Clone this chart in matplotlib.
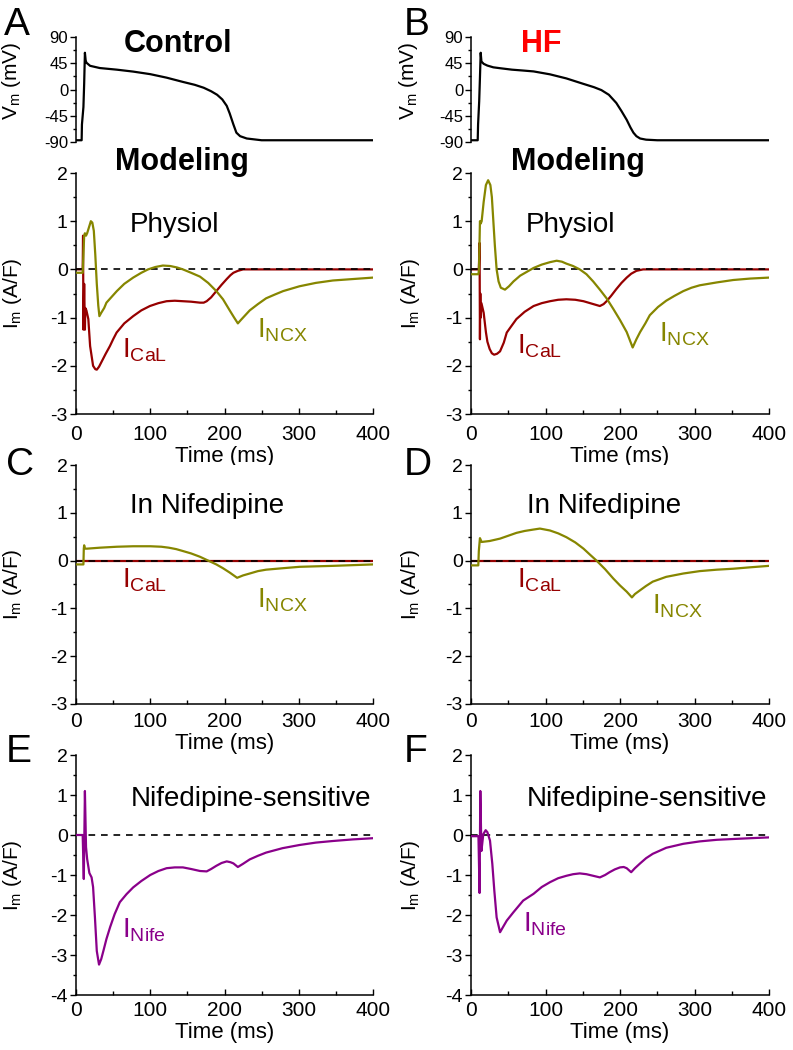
import matplotlib
matplotlib.use("Agg")
import matplotlib.pyplot as plt
from matplotlib.ticker import MultipleLocator

plt.rcParams['font.family'] = ['Liberation Sans', 'DejaVu Sans']
plt.rcParams['mathtext.fontset'] = 'custom'
plt.rcParams['mathtext.rm'] = 'Liberation Sans'
plt.rcParams['mathtext.it'] = 'Liberation Sans'
plt.rcParams['mathtext.default'] = 'regular'
plt.rcParams['axes.unicode_minus'] = False

# ---------------- data ----------------
# Action potentials
ap_ctrl_t = [0, 7.6, 8, 10, 11, 12, 13, 14, 19, 32, 55, 77, 100, 122, 144, 160, 172, 182,
             190, 197, 203, 207, 212, 216, 221, 230, 250, 400]
ap_ctrl_v = [-87, -87, -60, -30, 10, 63, 50, 46, 40.6, 36.8, 34, 30.7, 26.3, 20.3, 13, 8, 3, -3,
             -9, -17, -28, -41, -60, -74, -80, -84, -87, -87]
ap_hf_t = [0, 9, 9.5, 11, 12, 13, 14, 17, 22, 30, 39, 55, 70, 84, 106, 128, 150, 165, 175, 185,
           195, 202, 209, 214, 218, 222, 227, 235, 250, 400]
ap_hf_v = [-87, -87, -60, -20, 20, 63, 48, 44, 41, 38, 36.5, 34, 32.5, 31, 26, 19, 10, 4, -1, -9,
           -23, -37, -52, -65, -74, -80, -84, -86, -87, -87]

# Physiol, control
cal_ctrl_t = [0, 9, 9.5, 10, 11, 12, 12.5, 14, 16.6, 19, 23, 26, 28, 31, 35, 40, 45.7, 50, 54.7,
              65, 77, 88, 99.5, 111, 122, 133, 144, 155, 167, 172, 176, 182, 189, 196, 203, 208,
              212, 218, 225, 400]
cal_ctrl_i = [0, 0, 0.7, -1.25, -0.3, -1.25, -0.8, -0.85, -1.03, -1.59, -2.0, -2.07, -2.08, -2.02,
              -1.9, -1.75, -1.59, -1.45, -1.31, -1.12, -0.97, -0.85, -0.76, -0.7, -0.66, -0.65,
              -0.66, -0.67, -0.69, -0.69, -0.66, -0.58, -0.45, -0.32, -0.2, -0.12, -0.07, -0.03,
              0, 0]
ncx_ctrl_t = [0, 9, 10, 11, 12, 13.5, 15, 17, 20, 22, 24, 26, 28, 30, 31.5, 34, 38, 41, 48, 55,
              65, 77, 88, 97, 107, 117, 127, 136, 144, 155, 167, 178, 189, 198, 207, 213, 218,
              222, 228, 234, 245, 256, 268, 279, 290, 301, 323, 346, 373, 400]
ncx_ctrl_i = [-0.07, -0.07, 0.3, 0.7, 0.75, 0.7, 0.75, 0.85, 1.0, 0.97, 0.8, 0.3, -0.3, -0.75,
              -0.97, -0.9, -0.8, -0.69, -0.57, -0.45, -0.3, -0.17, -0.07, 0.0, 0.05, 0.08, 0.07,
              0.04, 0.0, -0.07, -0.15, -0.28, -0.45, -0.62, -0.85, -1.0, -1.12, -1.05, -0.95,
              -0.85, -0.72, -0.6, -0.52, -0.45, -0.4, -0.35, -0.28, -0.23, -0.2, -0.17]

# Physiol, HF
cal_hf_t = [0, 10.5, 11.5, 12, 12.5, 13, 14, 17, 20, 22, 25, 28, 31, 35, 39, 44, 48, 54, 61, 72,
            84, 95, 106, 117, 128, 140, 151, 162, 173, 178, 182, 188, 195, 202, 209, 215, 222,
            231, 400]
cal_hf_i = [0, 0, 0.55, -1.45, -0.5, -1.0, -0.7, -0.9, -1.3, -1.5, -1.65, -1.74, -1.77, -1.75,
            -1.7, -1.52, -1.31, -1.18, -1.03, -0.88, -0.76, -0.7, -0.66, -0.63, -0.62, -0.63,
            -0.66, -0.71, -0.76, -0.72, -0.66, -0.55, -0.41, -0.28, -0.17, -0.09, -0.03, 0, 0]
ncx_hf_t = [0, 10, 10.7, 11.5, 12, 13, 14.3, 17, 20, 23, 26, 28, 30, 32, 34.4, 37, 40, 45.6, 51,
            57, 66, 75, 84, 95, 106, 115, 122, 128, 137, 146, 155, 164, 173, 182, 191, 200, 209,
            217, 222, 227, 234, 240, 251, 262, 273, 285, 296, 307, 330, 352, 375, 400]
ncx_hf_i = [-0.1, -0.1, 0.0, 0.6, 1.0, 0.95, 1.0, 1.4, 1.75, 1.85, 1.75, 1.5, 1.0, 0.5, 0.0,
            -0.25, -0.38, -0.42, -0.35, -0.25, -0.13, -0.05, 0.03, 0.1, 0.15, 0.18, 0.16, 0.12,
            0.07, 0.0, -0.1, -0.25, -0.42, -0.6, -0.82, -1.05, -1.3, -1.62, -1.45, -1.3, -1.12,
            -0.95, -0.78, -0.65, -0.55, -0.45, -0.38, -0.33, -0.27, -0.22, -0.19, -0.17]

# In nifedipine
nif_cal_t = [0, 400]
nif_cal_i = [0, 0]
nif_ncx_ctrl_t = [0, 10, 10.5, 11, 12, 15, 32, 55, 77, 100, 115, 125, 135, 144, 155, 167, 178,
                  189, 198, 207, 217, 225, 234, 245, 256, 278, 301, 323, 346, 373, 400]
nif_ncx_ctrl_i = [-0.08, -0.08, 0.25, 0.32, 0.25, 0.25, 0.27, 0.29, 0.3, 0.3, 0.29, 0.27, 0.24,
                  0.2, 0.15, 0.08, 0.0, -0.08, -0.16, -0.25, -0.36, -0.31, -0.27, -0.22, -0.19,
                  -0.16, -0.13, -0.12, -0.11, -0.095, -0.08]
nif_ncx_hf_t = [0, 9.8, 10.5, 12, 14.3, 25, 39, 50, 61, 72, 84, 92.5, 106, 117, 128, 140, 151,
                160, 168.5, 180, 191, 200, 209, 216, 220, 227, 235, 244, 262, 285, 307, 330, 352,
                375, 400]
nif_ncx_hf_i = [-0.1, -0.1, 0.2, 0.47, 0.39, 0.41, 0.46, 0.52, 0.58, 0.62, 0.65, 0.67, 0.63,
                0.57, 0.49, 0.38, 0.25, 0.12, 0.0, -0.18, -0.375, -0.52, -0.65, -0.77, -0.7,
                -0.62, -0.53, -0.44, -0.34, -0.27, -0.22, -0.19, -0.17, -0.14, -0.11]

# Nifedipine-sensitive current
nife_ctrl_t = [0, 9, 10.5, 12, 13.5, 15, 18, 21, 23, 25.5, 28, 31, 34, 37, 41, 46, 52, 59, 68, 77,
               88, 100, 111, 122, 133, 144, 155, 167, 176, 182, 189, 196, 203, 208, 212, 218, 225,
               234, 245, 256, 278, 301, 323, 346, 373, 400]
nife_ctrl_i = [0, 0, -1.1, 1.1, -0.3, -0.6, -0.95, -1.06, -1.3, -2.06, -2.9, -3.24, -3.1, -2.89,
               -2.6, -2.3, -1.98, -1.68, -1.48, -1.31, -1.15, -1.0, -0.9, -0.83, -0.81, -0.81,
               -0.85, -0.9, -0.91, -0.85, -0.77, -0.7, -0.66, -0.68, -0.71, -0.8, -0.72, -0.61,
               -0.52, -0.44, -0.33, -0.25, -0.19, -0.15, -0.11, -0.08]
nife_hf_t = [0, 10, 11.5, 12.5, 14, 16.5, 19.7, 22, 25.5, 28.6, 31.3, 34.4, 39, 43, 48, 57, 70,
             84, 95, 106, 117, 128, 137, 146, 155, 164, 173, 180, 186, 193, 200, 205, 209, 215,
             220, 227, 235, 244, 262, 285, 307, 330, 352, 375, 400]
nife_hf_i = [-0.03, -0.03, -1.45, 1.1, -0.4, 0.02, 0.12, 0.07, -0.14, -0.72, -1.39, -2.06, -2.43,
             -2.3, -2.14, -1.93, -1.64, -1.47, -1.3, -1.18, -1.08, -1.02, -0.98, -0.96, -0.98,
             -1.02, -1.06, -1.0, -0.93, -0.86, -0.81, -0.8, -0.83, -0.93, -0.83, -0.71, -0.58,
             -0.47, -0.32, -0.22, -0.16, -0.12, -0.1, -0.08, -0.06]

xticks = [0, 100, 200, 300, 400]
ap_yticks = [-90, -45, 0, 45, 90]

C_CAL = '#960000'
C_NCX = '#868600'
C_NIFE = '#8a008a'

W, H = 793, 1050
fig = plt.figure(figsize=(W / 100, H / 100), dpi=100)


def fx(px):
    return px / W


def fy(py):
    return 1 - py / H


cols = [(76, 373), (471, 769)]
rows_ap = (37, 142)
rows = [(173, 414), (465, 704), (755, 995)]
xpads = [8, 6, 4.5]


def make_ax(col, row):
    x0, x1 = cols[col]
    y0, y1 = row
    return fig.add_axes([fx(x0), fy(y1), (x1 - x0) / W, (y1 - y0) / H])


def style_current(ax, ylim, yl, xpad):
    ax.set_xlim(0, 400)
    ax.set_ylim(*ylim)
    ax.spines['top'].set_visible(False)
    ax.spines['right'].set_visible(False)
    for s in ('left', 'bottom'):
        ax.spines[s].set_linewidth(1.1)
    ax.set_xticks(xticks)
    ax.xaxis.set_minor_locator(MultipleLocator(50))
    ax.yaxis.set_major_locator(MultipleLocator(1))
    ax.yaxis.set_minor_locator(MultipleLocator(0.5))
    ax.tick_params(axis='x', which='both', direction='in', labelsize=15, pad=xpad)
    ax.tick_params(axis='x', which='major', length=4, width=1)
    ax.tick_params(axis='x', which='minor', length=3, width=1)
    ax.tick_params(axis='y', which='both', direction='out', labelsize=14, pad=2)
    ax.tick_params(axis='y', which='major', length=4, width=1)
    ax.tick_params(axis='y', which='minor', length=2.5, width=1)
    ax.set_xlabel('Time (ms)', fontsize=16, labelpad=1.5)
    ax.set_ylabel('I$_m$ (A/F)', fontsize=15)
    ax.yaxis.set_label_coords(yl, 0.5)
    ax.axhline(0, color='black', lw=1.2, ls=(0, (4, 3.5)), zorder=3)


# ---------------- AP panels ----------------
for col, (t, v) in enumerate([(ap_ctrl_t, ap_ctrl_v), (ap_hf_t, ap_hf_v)]):
    ax = make_ax(col, rows_ap)
    ax.plot(t, v, color='black', lw=1.6)
    ax.set_xlim(0, 400)
    ax.set_ylim(-90, 90)
    for s in ('top', 'right', 'bottom'):
        ax.spines[s].set_visible(False)
    ax.spines['left'].set_linewidth(1.1)
    ax.set_xticks([])
    ax.set_yticks(ap_yticks)
    ax.yaxis.set_minor_locator(MultipleLocator(22.5))
    ax.tick_params(axis='y', which='both', direction='out', labelsize=12, pad=1.5)
    ax.tick_params(axis='y', which='major', length=4, width=1)
    ax.tick_params(axis='y', which='minor', length=2.5, width=1)
    ax.set_ylabel('V$_m$ (mV)', fontsize=15)
    ax.yaxis.set_label_coords(-0.18 if col == 0 else -0.17, 0.58)

# ---------------- Physiol ----------------
ylc = [-0.175, -0.165]
phys = [(cal_ctrl_t, cal_ctrl_i, ncx_ctrl_t, ncx_ctrl_i),
        (cal_hf_t, cal_hf_i, ncx_hf_t, ncx_hf_i)]
for col, (ct, ci, nt, ni) in enumerate(phys):
    ax = make_ax(col, rows[0])
    ax.plot(ct, ci, color=C_CAL, lw=1.6, zorder=2)
    style_current(ax, (-3, 2), ylc[col], xpads[0])
    ax.plot(nt, ni, color=C_NCX, lw=1.6, zorder=4)

# ---------------- In nifedipine ----------------
for col, (nt, ni) in enumerate([(nif_ncx_ctrl_t, nif_ncx_ctrl_i), (nif_ncx_hf_t, nif_ncx_hf_i)]):
    ax = make_ax(col, rows[1])
    ax.plot(nif_cal_t, nif_cal_i, color=C_CAL, lw=1.6, zorder=2)
    style_current(ax, (-3, 2), ylc[col], xpads[1])
    ax.plot(nt, ni, color=C_NCX, lw=1.6, zorder=4)

# ---------------- Nifedipine-sensitive ----------------
for col, (t, i) in enumerate([(nife_ctrl_t, nife_ctrl_i), (nife_hf_t, nife_hf_i)]):
    ax = make_ax(col, rows[2])
    style_current(ax, (-4, 2), ylc[col], xpads[2])
    ax.plot(t, i, color=C_NIFE, lw=1.6, zorder=4)

# ---------------- texts ----------------
def ftext(px, py, s, **kw):
    fig.text(fx(px), fy(py), s, **kw)


for lbl, px, py in [('A', 4, 35), ('B', 404, 35), ('C', 6, 475), ('D', 404, 475),
                    ('E', 6, 762), ('F', 404, 762)]:
    ftext(px, py, lbl, fontsize=28, va='baseline', ha='left')

ftext(178, 51.7, 'Control', fontsize=22, fontweight='bold', ha='center', va='baseline')
ftext(541, 51.7, 'HF', fontsize=22, fontweight='bold', ha='center', va='baseline', color='#ff0000')
ftext(182, 170, 'Modeling', fontsize=22, fontweight='bold', ha='center', va='baseline')
ftext(578, 170, 'Modeling', fontsize=22, fontweight='bold', ha='center', va='baseline')

ftext(174, 231.7, 'Physiol', fontsize=20, ha='center', va='baseline')
ftext(570, 231.7, 'Physiol', fontsize=20, ha='center', va='baseline')
ftext(207, 513, 'In Nifedipine', fontsize=20, ha='center', va='baseline')
ftext(604, 513, 'In Nifedipine', fontsize=20, ha='center', va='baseline')
ftext(251, 806, 'Nifedipine-sensitive', fontsize=20, ha='center', va='baseline')
ftext(647, 806, 'Nifedipine-sensitive', fontsize=20, ha='center', va='baseline')

ann = [(122, 357, 'I$_{CaL}$', C_CAL), (257, 338, 'I$_{NCX}$', C_NCX),
       (517, 353, 'I$_{CaL}$', C_CAL), (659, 342, 'I$_{NCX}$', C_NCX),
       (122, 587, 'I$_{CaL}$', C_CAL), (257, 607, 'I$_{NCX}$', C_NCX),
       (517, 587, 'I$_{CaL}$', C_CAL), (652, 613, 'I$_{NCX}$', C_NCX),
       (122, 938, 'I$_{Nife}$', C_NIFE), (523, 932, 'I$_{Nife}$', C_NIFE)]
for px, py, s, c in ann:
    ftext(px, py, s, fontsize=20, color=c, ha='left', va='baseline')

fig.savefig('out.png', dpi=100)
